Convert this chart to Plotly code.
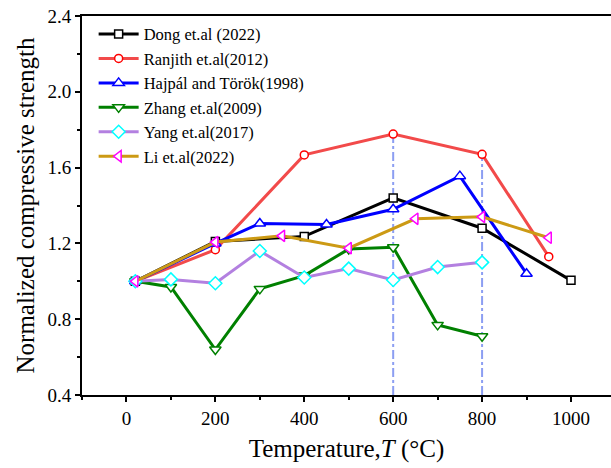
import plotly.graph_objects as go

# ---- data ----
dong_T = [20, 200, 400, 600, 800, 1000]
dong_v = [1.00, 1.21, 1.237, 1.44, 1.28, 1.005]

ranjith_T = [20, 200, 400, 600, 800, 950]
ranjith_v = [1.00, 1.167, 1.667, 1.777, 1.67, 1.13]

hajpal_T = [20, 200, 300, 450, 600, 750, 900]
hajpal_v = [1.00, 1.20, 1.305, 1.30, 1.38, 1.555, 1.04]

zhang_T = [20, 100, 200, 300, 400, 500, 600, 700, 800]
zhang_v = [1.00, 0.97, 0.64, 0.96, 1.03, 1.17, 1.18, 0.77, 0.71]

yang_T = [20, 100, 200, 300, 400, 500, 600, 700, 800]
yang_v = [1.00, 1.01, 0.99, 1.16, 1.02, 1.067, 1.007, 1.075, 1.10]

li_T = [20, 200, 350, 500, 650, 800, 950]
li_v = [1.00, 1.207, 1.24, 1.175, 1.33, 1.34, 1.23]

ref_T = [600, 800]
ref_top = [1.777, 1.67]

x_ticks = [0, 200, 400, 600, 800, 1000]
y_ticks = [0.4, 0.8, 1.2, 1.6, 2.0, 2.4]

FONT = "Liberation Serif"

fig = go.Figure()

# reference dash-dot lines
for t, top in zip(ref_T, ref_top):
    fig.add_trace(go.Scatter(
        x=[t, t], y=[0.4, top], mode="lines",
        line=dict(color="#8C9EF2", width=2, dash="dashdot"),
        showlegend=False, hoverinfo="skip"))

series = [
    ("Dong et.al (2022)", dong_T, dong_v, "#000000", "square", "#000000", 8),
    ("Ranjith et.al(2012)", ranjith_T, ranjith_v, "#F24A4A", "circle", "#FF0000", 8),
    ("Hajpál and Török(1998)", hajpal_T, hajpal_v, "#0000FF", "triangle-up", "#0000FF", 10),
    ("Zhang et.al(2009)", zhang_T, zhang_v, "#008000", "triangle-down", "#008000", 10),
    ("Yang et.al(2017)", yang_T, yang_v, "#B380E0", "diamond", "#00FFFF", 10),
    ("Li et.al(2022)", li_T, li_v, "#CC9A14", "triangle-left", "#FF00FF", 10),
]

for name, xs, ys, lc, sym, mc, ms in series:
    fig.add_trace(go.Scatter(
        x=xs, y=ys, mode="lines+markers", name=name,
        line=dict(color=lc, width=3),
        marker=dict(symbol=sym, size=ms, color="white",
                    line=dict(color=mc, width=1.5)),
    ))

axis_common = dict(
    showline=True, linecolor="black", linewidth=2,
    ticks="outside", ticklen=5, tickwidth=1.5, tickcolor="black",
    showgrid=False, zeroline=False,
    tickfont=dict(family=FONT, size=19, color="black"),
)

fig.update_xaxes(
    range=[-100, 1090], tickvals=x_ticks, mirror=True,
    minor=dict(ticklen=3, dtick=100, tick0=0, ticks="outside", tickcolor="black", tickwidth=1.5),
    title=dict(text="Temperature,<i>T</i> (°C)", font=dict(family=FONT, size=25, color="black"), standoff=12),
    **axis_common)
fig.update_yaxes(
    range=[0.4, 2.4], tickvals=y_ticks, tickformat=".1f",
    minor=dict(ticklen=3, dtick=0.2, tick0=0.4, ticks="outside", tickcolor="black", tickwidth=1.5),
    title=dict(text="Normalized compressive strength", font=dict(family=FONT, size=25, color="black"), standoff=6),
    **axis_common)

fig.update_layout(
    width=611, height=468,
    margin=dict(l=82, r=0, t=16, b=73),
    plot_bgcolor="white", paper_bgcolor="white",
    font=dict(family=FONT, color="black"),
    legend=dict(x=0.022, y=0.998, xanchor="left", yanchor="top",
                font=dict(family=FONT, size=16.5, color="black"),
                bgcolor="rgba(0,0,0,0)", tracegroupgap=0, itemwidth=40),
    showlegend=True,
)

fig.write_html("out.html")
